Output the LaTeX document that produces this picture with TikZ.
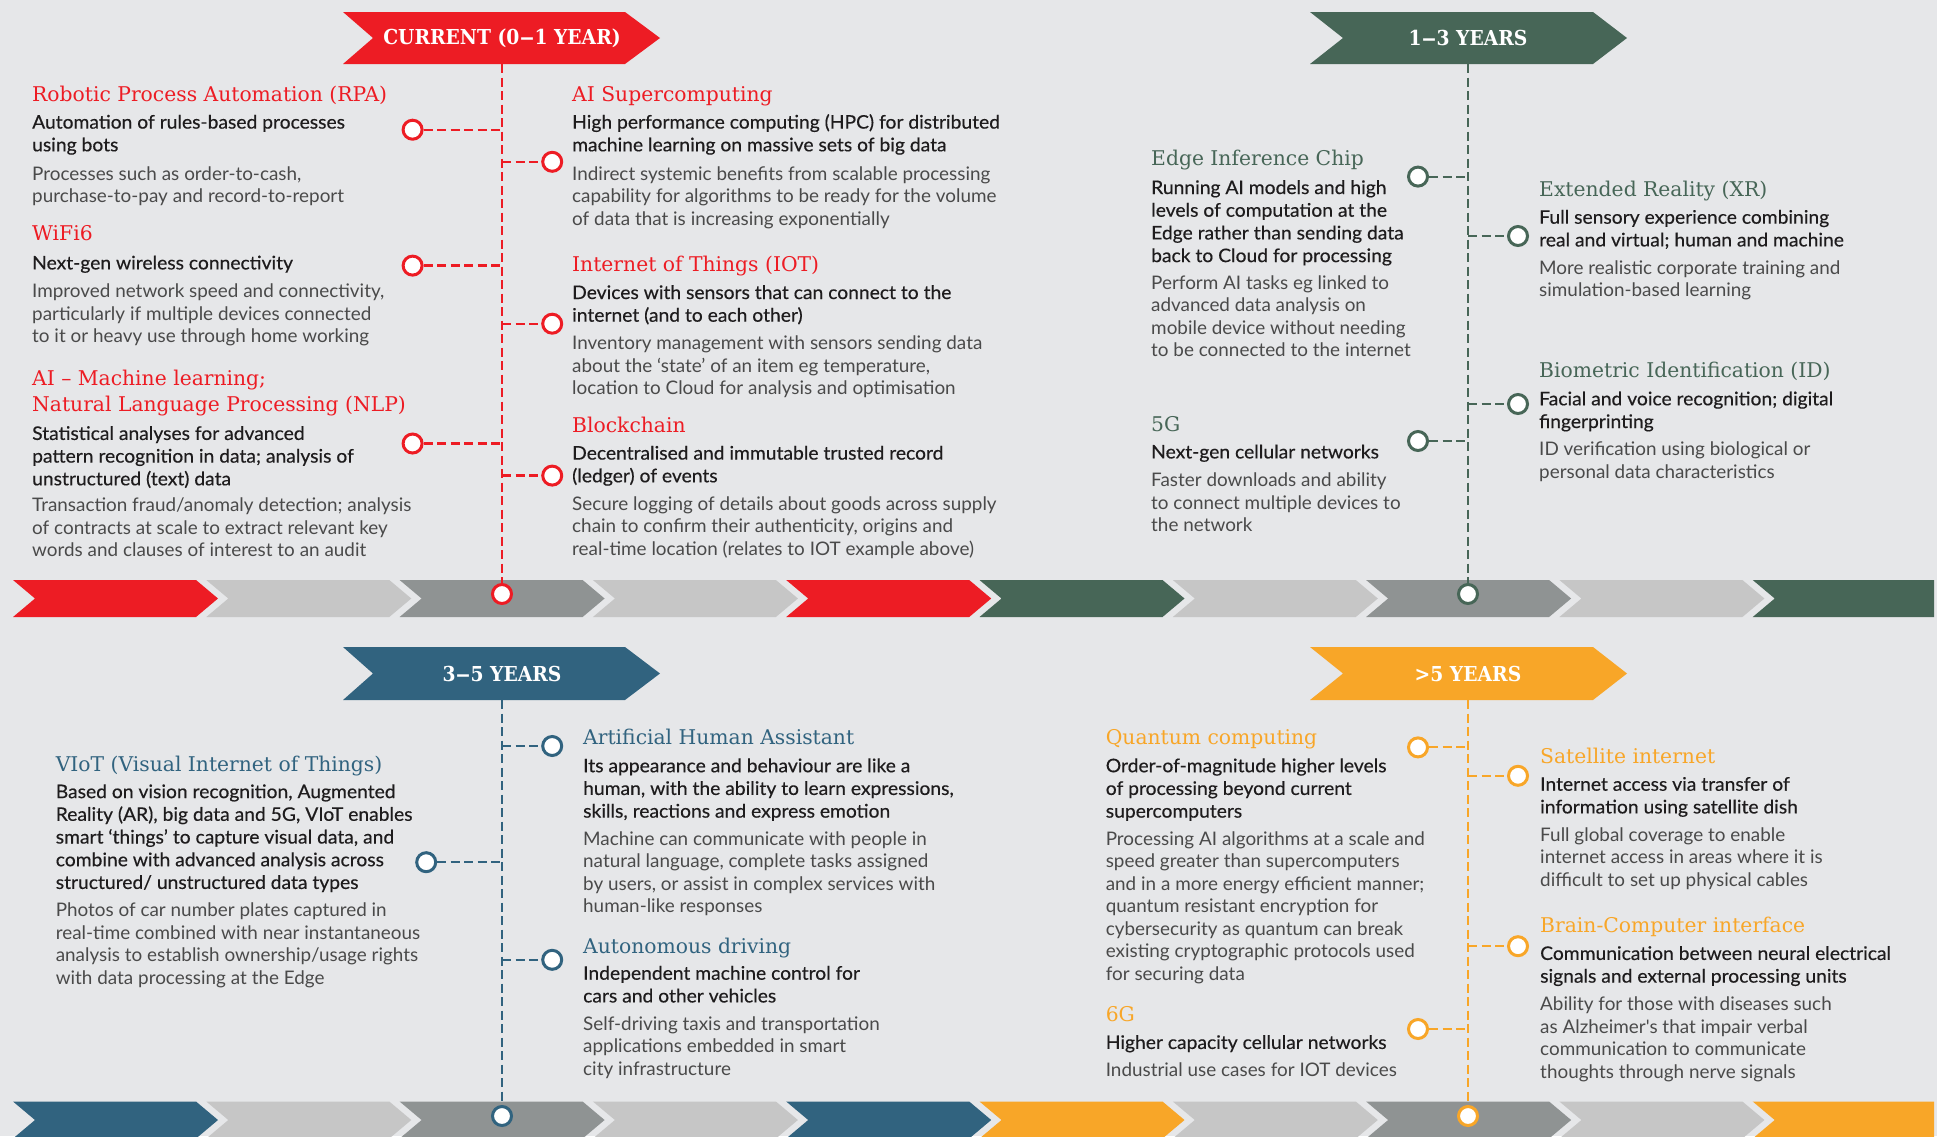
\documentclass[tikz,border=0pt]{standalone}
\usepackage{graphicx}
\usepackage{fontspec}
\setmainfont{Lato}
\newfontfamily\medfont{Lato}[FakeBold=0.4, FakeStretch=1.03]
\newfontfamily\lightfont{Lato}[FakeStretch=1.01]
\newfontfamily\headfont{DejaVu Serif}
\newfontfamily\bannerfont{DejaVu Serif}[FakeStretch=0.91]
\definecolor{bg}{HTML}{E6E7E9}
\definecolor{redA}{HTML}{ED1C24}
\definecolor{greenA}{HTML}{476657}
\definecolor{blueA}{HTML}{31637F}
\definecolor{orangeA}{HTML}{F8A628}
\definecolor{lg}{HTML}{C6C6C6}
\definecolor{dg}{HTML}{8F9393}
\definecolor{ink}{HTML}{1E1C1D}
\definecolor{soft}{HTML}{4A4A4A}
\def\blkbr{\egroup\hbox\bgroup}
\newcommand\blk[1]{\vtop{\let\\\blkbr\hbox\bgroup#1\egroup}}
\newcommand\bdash{\scalebox{1.6}[1]{–}}
\tikzset{
  hd/.style={anchor=base west, inner sep=0pt, font=\headfont\fontsize{20.3}{26}\selectfont},
  bd/.style={anchor=base west, inner sep=0pt, text=ink, font=\medfont\fontsize{18.7}{22.7}\selectfont},
  lt/.style={anchor=base west, inner sep=0pt, text=soft, font=\lightfont\fontsize{18.7}{22.5}\selectfont},
  bannertext/.style={inner sep=0pt, text=white, font=\bannerfont\bfseries\fontsize{20.6}{24}\selectfont},
  conn/.style={dash pattern=on 9pt off 4.5pt, line width=2.4pt},
  dot/.style={circle, fill=white, line width=3pt, minimum size=19pt, inner sep=0pt},
}
\begin{document}
\begin{tikzpicture}[x=1pt,y=-1pt]
\useasboundingbox (0,0) rectangle (1937,1136);
\fill[bg] (0,0) rectangle (1937,1136);
% chevron rows
\foreach \c [count=\i from 0] in {redA,lg,dg,lg,redA,greenA,lg,dg,lg} {
  \pgfmathsetmacro\xa{13+193.3*\i}
  \fill[\c] (\xa,580) -- ++(183,0) -- ++(22,18.5) -- ++(-22,18.5) -- ++(-183,0) -- ++(22,-18.5) -- cycle;
}
\fill[greenA] (1752.7,580) -- (1934,580) -- (1934,617) -- (1752.7,617) -- (1774.7,598.5) -- cycle;
\foreach \c [count=\i from 0] in {blueA,lg,dg,lg,blueA,orangeA,lg,dg,lg} {
  \pgfmathsetmacro\xa{13+193.3*\i}
  \fill[\c] (\xa,1101.5) -- ++(183,0) -- ++(22,18.5) -- ++(-22,18.5) -- ++(-183,0) -- ++(22,-18.5) -- cycle;
}
\fill[orangeA] (1752.7,1101.5) -- (1934,1101.5) -- (1934,1138.5) -- (1752.7,1138.5) -- (1774.7,1120) -- cycle;
% banners
\fill[redA] (343,12) -- (625,12) -- (660,38) -- (625,64) -- (343,64) -- (373,38) -- cycle;
\fill[greenA] (1310,12) -- (1593,12) -- (1627,38) -- (1593,64) -- (1310,64) -- (1343,38) -- cycle;
\fill[blueA] (343,647) -- (625,647) -- (660,673.5) -- (625,700) -- (343,700) -- (373,673.5) -- cycle;
\fill[orangeA] (1310,647) -- (1593,647) -- (1627,673.5) -- (1593,700) -- (1310,700) -- (1343,673.5) -- cycle;
\node[bannertext] (b1) at (502,38) {CURRENT (0\bdash1 YEAR)};
\node[bannertext] (b2) at (1468,38) {1\bdash3 YEARS};
\node[bannertext] (b3) at (502,673.5) {3\bdash5 YEARS};
\node[bannertext] (b4) at (1468,673.5) {>5 YEARS};
\coordinate (b1s) at (502,64);
\coordinate (b2s) at (1468,64);
\coordinate (b3s) at (502,700);
\coordinate (b4s) at (1468,700);
% dots
\node[dot, draw=redA] (c1) at (502,594) {};
\node[dot, draw=redA] (rpa) at (412.6,129.7) {};
\node[dot, draw=redA] (sup) at (552.2,161.8) {};
\node[dot, draw=redA] (wifi) at (412.6,265.6) {};
\node[dot, draw=redA] (iot) at (552.2,323.7) {};
\node[dot, draw=redA] (nlp) at (412.6,443.5) {};
\node[dot, draw=redA] (bch) at (552.2,475.6) {};
\node[dot, draw=greenA] (c2) at (1468,594) {};
\node[dot, draw=greenA] (edge) at (1418,176.6) {};
\node[dot, draw=greenA] (xr) at (1518,236) {};
\node[dot, draw=greenA] (bio) at (1518,404) {};
\node[dot, draw=greenA] (gfive) at (1418,441) {};
\node[dot, draw=blueA] (c3) at (502,1116) {};
\node[dot, draw=blueA] (aha) at (552.2,746) {};
\node[dot, draw=blueA] (viot) at (426.2,862.2) {};
\node[dot, draw=blueA] (auto) at (552.2,959.8) {};
\node[dot, draw=orangeA] (c4) at (1468,1116) {};
\node[dot, draw=orangeA] (qc) at (1418,747.4) {};
\node[dot, draw=orangeA] (sat) at (1518,775.8) {};
\node[dot, draw=orangeA] (bci) at (1518,946.2) {};
\node[dot, draw=orangeA] (gsix) at (1418,1029) {};
% spine coordinates
\foreach \n/\x in {rpa/502,sup/502,wifi/502,iot/502,nlp/502,bch/502,edge/1468,xr/1468,bio/1468,gfive/1468,aha/502,viot/502,auto/502,qc/1468,sat/1468,bci/1468,gsix/1468} {
  \path (\n) -| coordinate (s-\n) (\x,0);
}
% connectors
\draw[conn, redA] (b1s) -- (c1.north);
\draw[conn, greenA, line width=2.1pt] (b2s) -- (c2.north);
\draw[conn, blueA, line width=2.1pt] (b3s) -- (c3.north);
\draw[conn, orangeA, line width=2.1pt] (b4s) -- (c4.north);
\foreach \n in {rpa,wifi,nlp} \draw[conn, redA] (\n.east) -- (s-\n);
\foreach \n in {sup,iot,bch} \draw[conn, redA] (s-\n) -- (\n.west);
\foreach \n in {edge,gfive} \draw[conn, greenA, line width=2.1pt] (\n.east) -- (s-\n);
\foreach \n in {xr,bio} \draw[conn, greenA, line width=2.1pt] (s-\n) -- (\n.west);
\foreach \n in {viot} \draw[conn, blueA, line width=2.1pt] (\n.east) -- (s-\n);
\foreach \n in {aha,auto} \draw[conn, blueA, line width=2.1pt] (s-\n) -- (\n.west);
\foreach \n in {qc,gsix} \draw[conn, orangeA, line width=2.1pt] (\n.east) -- (s-\n);
\foreach \n in {sat,bci} \draw[conn, orangeA, line width=2.1pt] (s-\n) -- (\n.west);
\begin{scope}[yshift=-2.5pt]
% texts: top-left
\node[hd, text=redA] at (32,98.6) {Robotic Process Automation (RPA)};
\node[bd] at (32,126.1) {\blk{Automation of rules-based processes\\using bots}};
\node[lt] at (32,177.9) {\blk{Processes such as order-to-cash,\\purchase-to-pay and record-to-report}};
\node[hd, text=redA] at (32,238.2) {WiFi6};
\node[bd] at (32,266.9) {\blk{Next-gen wireless connectivity}};
\node[lt] at (32,295.3) {\blk{Improved network speed and connectivity,\\particularly if multiple devices connected\\to it or heavy use through home working}};
\node[hd, text=redA] at (32,382.8) {\blk{AI – Machine learning;\\Natural Language Processing (NLP)}};
\node[bd] at (32,437.4) {\blk{Statistical analyses for advanced\\pattern recognition in data; analysis of\\unstructured (text) data}};
\node[lt] at (32,509) {\blk{Transaction fraud/anomaly detection; analysis\\of contracts at scale to extract relevant key\\words and clauses of interest to an audit}};
\node[hd, text=redA] at (572,98.6) {AI Supercomputing};
\node[bd] at (572,126.1) {\blk{High performance computing (HPC) for distributed\\machine learning on massive sets of big data}};
\node[lt] at (572,177.9) {\blk{Indirect systemic benefits from scalable processing\\capability for algorithms to be ready for the volume\\of data that is increasing exponentially}};
\node[hd, text=redA] at (572,269.1) {Internet of Things (IOT)};
\node[bd] at (572,296.5) {\blk{Devices with sensors that can connect to the\\internet (and to each other)}};
\node[lt] at (572,347.2) {\blk{Inventory management with sensors sending data\\about the ‘state’ of an item eg temperature,\\location to Cloud for analysis and optimisation}};
\node[hd, text=redA] at (572,429.7) {Blockchain};
\node[bd] at (572,457.1) {\blk{Decentralised and immutable trusted record\\(ledger) of events}};
\node[lt] at (572,507.8) {\blk{Secure logging of details about goods across supply\\chain to confirm their authenticity, origins and\\real-time location (relates to IOT example above)}};
% top-right
\node[hd, text=greenA] at (1151,162.9) {Edge Inference Chip};
\node[bd] at (1151,191.5) {\blk{Running AI models and high\\levels of computation at the\\Edge rather than sending data\\back to Cloud for processing}};
\node[lt] at (1151,286.6) {\blk{Perform AI tasks eg linked to\\advanced data analysis on\\mobile device without needing\\to be connected to the internet}};
\node[hd, text=greenA] at (1151,428.5) {5G};
\node[bd] at (1151,455.9) {\blk{Next-gen cellular networks}};
\node[lt] at (1151,484.3) {\blk{Faster downloads and ability\\to connect multiple devices to\\the network}};
\node[hd, text=greenA] at (1539,193.8) {Extended Reality (XR)};
\node[bd] at (1539,221.2) {\blk{Full sensory experience combining\\real and virtual; human and machine}};
\node[lt] at (1539,271.8) {\blk{More realistic corporate training and\\simulation-based learning}};
\node[hd, text=greenA] at (1539,375.4) {Biometric Identification (ID)};
\node[bd] at (1539,402.8) {\blk{Facial and voice recognition; digital\\fingerprinting}};
\node[lt] at (1539,453.4) {\blk{ID verification using biological or\\personal data characteristics}};
% bottom-left
\node[hd, text=blueA] at (55.6,769.4) {VIoT (Visual Internet of Things)};
\node[bd] at (55.6,795.6) {\blk{Based on vision recognition, Augmented\\Reality (AR), big data and 5G, VIoT enables\\smart ‘things’ to capture visual data, and\\combine with advanced analysis across\\structured/ unstructured data types}};
\node[lt] at (55.6,914.2) {\blk{Photos of car number plates captured in\\real-time combined with near instantaneous\\analysis to establish ownership/usage rights\\with data processing at the Edge}};
\node[hd, text=blueA] at (583,742.2) {Artificial Human Assistant};
\node[bd] at (583,769.7) {\blk{Its appearance and behaviour are like a\\human, with the ability to learn expressions,\\skills, reactions and express emotion}};
\node[lt] at (583,842.5) {\blk{Machine can communicate with people in\\natural language, complete tasks assigned\\by users, or assist in complex services with\\human-like responses}};
\node[hd, text=blueA] at (583,951) {Autonomous driving};
\node[bd] at (583,977.2) {\blk{Independent machine control for\\cars and other vehicles}};
\node[lt] at (583,1027.8) {\blk{Self-driving taxis and transportation\\applications embedded in smart\\city infrastructure}};
% bottom-right
\node[hd, text=orangeA] at (1105.6,742.2) {Quantum computing};
\node[bd] at (1105.6,769.7) {\blk{Order-of-magnitude higher levels\\of processing beyond current\\supercomputers}};
\node[lt] at (1105.6,842.5) {\blk{Processing AI algorithms at a scale and\\speed greater than supercomputers\\and in a more energy efficient manner;\\quantum resistant encryption for\\cybersecurity as quantum can break\\existing cryptographic protocols used\\for securing data}};
\node[hd, text=orangeA] at (1105.6,1018.9) {6G};
\node[bd] at (1105.6,1046.4) {\blk{Higher capacity cellular networks}};
\node[lt] at (1105.6,1073.5) {\blk{Industrial use cases for IOT devices}};
\node[hd, text=orangeA] at (1540,760.8) {Satellite internet};
\node[bd] at (1540,788.2) {\blk{Internet access via transfer of\\information using satellite dish}};
\node[lt] at (1540,838.8) {\blk{Full global coverage to enable\\internet access in areas where it is\\difficult to set up physical cables}};
\node[hd, text=orangeA] at (1540,930) {Brain-Computer interface};
\node[bd] at (1540,957.4) {\blk{Communication between neural electrical\\signals and external processing units}};
\node[lt] at (1540,1008) {\blk{Ability for those with diseases such\\as Alzheimer's that impair verbal\\communication to communicate\\thoughts through nerve signals}};
\end{scope}
\end{tikzpicture}
\end{document}
